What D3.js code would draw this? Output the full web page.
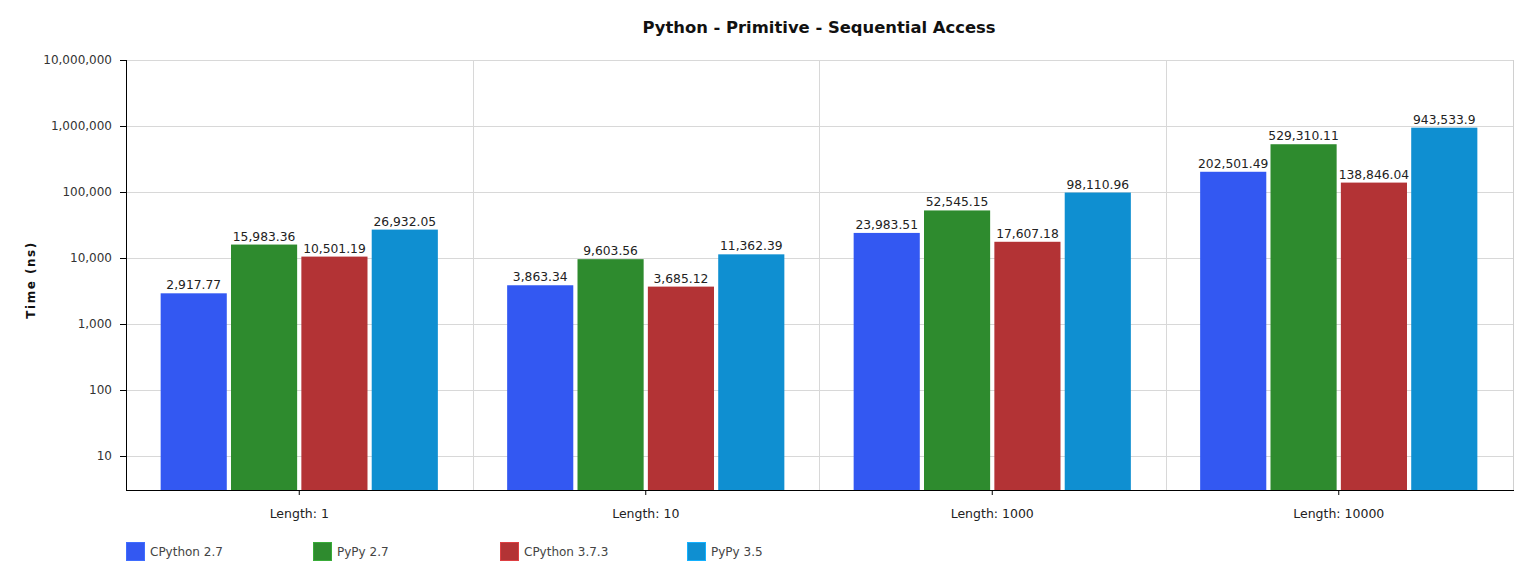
<!DOCTYPE html>
<html><head><meta charset="utf-8">
<script src="https://cdn.jsdelivr.net/npm/d3@7/dist/d3.min.js"></script>
<style>body{margin:0;background:#fff}svg{display:block}text{font-family:"DejaVu Sans",Verdana,sans-serif}</style>
</head><body><svg id="c" width="1535" height="581"></svg>
<script>
const categories = ["Length: 1", "Length: 10", "Length: 1000", "Length: 10000"];
const seriesNames = ["CPython 2.7", "PyPy 2.7", "CPython 3.7.3", "PyPy 3.5"];
const seriesColors = ["#3358f2", "#2e8b2e", "#b33335", "#0f8fd1"];
const cpython27 = [2917.77, 3863.34, 23983.51, 202501.49];
const pypy27 = [15983.36, 9603.56, 52545.15, 529310.11];
const cpython373 = [10501.19, 3685.12, 17607.18, 138846.04];
const pypy35 = [26932.05, 11362.39, 98110.96, 943533.9];
const yTicks = [10, 100, 1000, 10000, 100000, 1000000, 10000000];
const title = "Python - Primitive - Sequential Access";
const yLabel = "Time (ns)";

const series = [cpython27, pypy27, cpython373, pypy35];
const svg = d3.select("#c");
const L = 126, R = 1512, T = 60, B = 490;

const x0 = d3.scaleBand().domain(categories).range([L, R]).padding(0);
const x1 = d3.scaleBand().domain(seriesNames)
  .range([x0.bandwidth() * 0.1, x0.bandwidth() * 0.9]).paddingInner(0.06);
const y = d3.scaleLog().domain([10, 1e7]).range([456, T]);

const fmt = d3.format(",");
const fmtV = v => fmt(v);

// horizontal gridlines
svg.append("g").selectAll("line").data(yTicks).join("line")
  .attr("x1", L).attr("x2", R + 1).attr("y1", d => y(d)).attr("y2", d => y(d))
  .attr("stroke", "#d8d8d8").attr("stroke-width", 1).attr("shape-rendering", "crispEdges");
// vertical gridlines at group boundaries
svg.append("g").selectAll("line").data(categories.slice(1)).join("line")
  .attr("x1", d => Math.round(x0(d)) + 0.5).attr("x2", d => Math.round(x0(d)) + 0.5)
  .attr("y1", T).attr("y2", B).attr("stroke", "#d8d8d8");
// right border
svg.append("line").attr("x1", R + 1.5).attr("x2", R + 1.5).attr("y1", T).attr("y2", B)
  .attr("stroke", "#d0d0d0");

// bars
const groups = svg.append("g").selectAll("g").data(categories).join("g")
  .attr("transform", d => `translate(${x0(d)},0)`);
groups.selectAll("rect").data((c, ci) => seriesNames.map((s, si) => ({s, si, v: series[si][ci]})))
  .join("rect")
  .attr("x", d => x1(d.s)).attr("width", x1.bandwidth())
  .attr("y", d => y(d.v)).attr("height", d => B - y(d.v))
  .attr("fill", d => seriesColors[d.si]);
groups.selectAll("text").data((c, ci) => seriesNames.map((s, si) => ({s, si, v: series[si][ci]})))
  .join("text")
  .attr("x", d => x1(d.s) + x1.bandwidth() / 2).attr("y", d => y(d.v) - 4)
  .attr("text-anchor", "middle").attr("font-size", 12.3).attr("fill", "#222")
  .text(d => fmtV(d.v));

// y axis
const ya = svg.append("g").attr("transform", `translate(${L},0)`)
  .call(d3.axisLeft(y).tickValues(yTicks).tickFormat(fmt).tickSize(6).tickPadding(8));
ya.select(".domain").attr("d", `M0.5,${T}V${B}`).attr("stroke", "#000");
ya.selectAll("text").attr("font-size", 12).attr("fill", "#333").attr("font-family", "DejaVu Sans");
ya.selectAll(".tick line").attr("stroke", "#000");

// x axis
const xa = svg.append("g").attr("transform", `translate(0,${B})`)
  .call(d3.axisBottom(x0).tickSize(5).tickPadding(14));
xa.select(".domain").attr("d", `M${L},0.5H${R + 2}`).attr("stroke", "#000");
xa.selectAll("text").attr("font-size", 12.5).attr("fill", "#222").attr("font-family", "DejaVu Sans");
xa.selectAll(".tick line").attr("stroke", "#000");

// title
svg.append("text").attr("x", (L + R) / 2).attr("y", 33).attr("text-anchor", "middle")
  .attr("font-size", 16.4).attr("font-weight", "bold").attr("fill", "#111").text(title);
// y label
svg.append("text").attr("transform", `translate(35,${(T + B) / 2 + 5}) rotate(-90)`)
  .attr("text-anchor", "middle").attr("font-size", 12).attr("font-weight", "bold")
  .attr("letter-spacing", 1.5).attr("fill", "#111").text(yLabel);

// legend
const lg = svg.append("g").selectAll("g").data(seriesNames).join("g")
  .attr("transform", (d, i) => `translate(${L + i * 187},542)`);
lg.append("rect").attr("x", 0.5).attr("y", 0.5).attr("width", 18).attr("height", 18)
  .attr("fill", (d, i) => seriesColors[i]).attr("stroke", (d, i) => d3.color(seriesColors[i]).brighter(0.6));
lg.append("text").attr("x", 24).attr("y", 14).attr("font-size", 12).attr("fill", "#444").text(d => d);
</script></body></html>
